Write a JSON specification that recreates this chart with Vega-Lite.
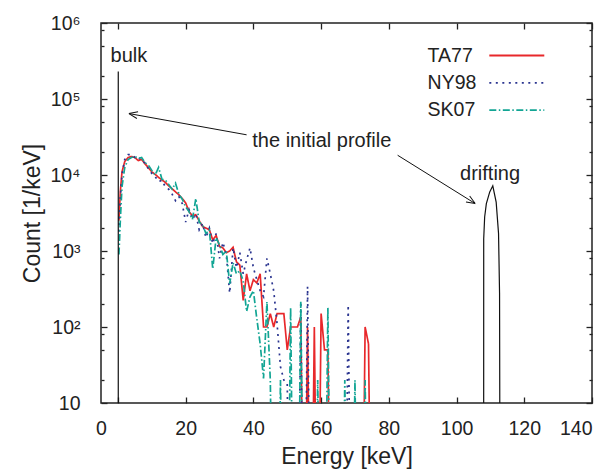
{
 "$schema": "https://vega.github.io/schema/vega-lite/v6.json",
 "autosize": "none",
 "width": 491,
 "height": 380,
 "padding": {"left": 101, "top": 23, "right": 18, "bottom": 67},
 "background": "white",
 "config": {
  "font": "Liberation Sans",
  "view": {"stroke": "#222", "strokeWidth": 1.5},
  "axis": {"domain": false, "grid": false, "ticks": true, "tickColor": "#222", "labelColor": "#222", "titleColor": "#222", "labelFont": "Liberation Sans", "titleFont": "Liberation Sans", "titleFontWeight": "normal", "labelFontSize": 19.5, "titleFontSize": 23, "tickWidth": 1.3}
 },
 "datasets": {
  "spectra": [
   {"series":"TA77","E":0.3,"v":2500},{"series":"TA77","E":0.7,"v":6000},{"series":"TA77","E":1.2,"v":11000},{"series":"TA77","E":2,"v":15000},{"series":"TA77","E":3,"v":17000},{"series":"TA77","E":4,"v":17500},{"series":"TA77","E":5,"v":17000},{"series":"TA77","E":6,"v":15500},{"series":"TA77","E":7,"v":16000},{"series":"TA77","E":8,"v":14000},{"series":"TA77","E":9,"v":12500},{"series":"TA77","E":10,"v":11000},{"series":"TA77","E":11,"v":10200},{"series":"TA77","E":12,"v":9300},{"series":"TA77","E":13,"v":8600},{"series":"TA77","E":14,"v":8000},{"series":"TA77","E":15,"v":7200},{"series":"TA77","E":16,"v":6600},{"series":"TA77","E":17,"v":6000},{"series":"TA77","E":18,"v":5500},{"series":"TA77","E":19,"v":4900},{"series":"TA77","E":20,"v":4300},{"series":"TA77","E":21,"v":3300},{"series":"TA77","E":22,"v":2900},{"series":"TA77","E":23,"v":3000},{"series":"TA77","E":24,"v":2500},{"series":"TA77","E":25,"v":2100},{"series":"TA77","E":26,"v":2000},{"series":"TA77","E":27,"v":1900},{"series":"TA77","E":28,"v":1400},{"series":"TA77","E":29,"v":1600},{"series":"TA77","E":30,"v":1150},{"series":"TA77","E":31,"v":1100},{"series":"TA77","E":32,"v":950},{"series":"TA77","E":33,"v":1000},{"series":"TA77","E":34,"v":1120},{"series":"TA77","E":35,"v":720},{"series":"TA77","E":36,"v":650},{"series":"TA77","E":37,"v":224},{"series":"TA77","E":38,"v":500},{"series":"TA77","E":39,"v":300},{"series":"TA77","E":40,"v":420},{"series":"TA77","E":41,"v":380},{"series":"TA77","E":42,"v":500},{"series":"TA77","E":43,"v":100},{"series":"TA77","E":44,"v":100},{"series":"TA77","E":45,"v":150},{"series":"TA77","E":46,"v":100},{"series":"TA77","E":47,"v":150},{"series":"TA77","E":48,"v":150},{"series":"TA77","E":49,"v":150},{"series":"TA77","E":50,"v":50},{"series":"TA77","E":51,"v":100},{"series":"TA77","E":52,"v":100},{"series":"TA77","E":53,"v":100},{"series":"TA77","E":54,"v":135},{"series":"TA77","E":55,"v":0.01},{"series":"TA77","E":56,"v":100},{"series":"TA77","E":57,"v":0.01},{"series":"TA77","E":58,"v":100},{"series":"TA77","E":59,"v":0.01},{"series":"TA77","E":60,"v":150},{"series":"TA77","E":61,"v":50},{"series":"TA77","E":62,"v":50},{"series":"TA77","E":63,"v":0.01},{"series":"TA77","E":72,"v":0.01},{"series":"TA77","E":73,"v":100},{"series":"TA77","E":74,"v":60},{"series":"TA77","E":75,"v":0.01},
   {"series":"NY98","E":0.3,"v":1800},{"series":"NY98","E":0.7,"v":5000},{"series":"NY98","E":1.2,"v":10000},{"series":"NY98","E":2,"v":16000},{"series":"NY98","E":3,"v":18500},{"series":"NY98","E":4,"v":18500},{"series":"NY98","E":5,"v":17000},{"series":"NY98","E":6,"v":17500},{"series":"NY98","E":7,"v":15000},{"series":"NY98","E":8,"v":14500},{"series":"NY98","E":9,"v":12000},{"series":"NY98","E":10,"v":10500},{"series":"NY98","E":11,"v":9500},{"series":"NY98","E":12,"v":8200},{"series":"NY98","E":13,"v":8500},{"series":"NY98","E":14,"v":7000},{"series":"NY98","E":15,"v":6500},{"series":"NY98","E":16,"v":5600},{"series":"NY98","E":17,"v":4600},{"series":"NY98","E":18,"v":5200},{"series":"NY98","E":19,"v":4200},{"series":"NY98","E":20,"v":2400},{"series":"NY98","E":21,"v":3500},{"series":"NY98","E":22,"v":2600},{"series":"NY98","E":23,"v":3100},{"series":"NY98","E":24,"v":1900},{"series":"NY98","E":25,"v":2300},{"series":"NY98","E":26,"v":1500},{"series":"NY98","E":27,"v":2000},{"series":"NY98","E":28,"v":1250},{"series":"NY98","E":29,"v":1700},{"series":"NY98","E":30,"v":800},{"series":"NY98","E":31,"v":1300},{"series":"NY98","E":32,"v":900},{"series":"NY98","E":33,"v":280},{"series":"NY98","E":34,"v":1100},{"series":"NY98","E":35,"v":600},{"series":"NY98","E":36,"v":950},{"series":"NY98","E":37,"v":500},{"series":"NY98","E":38,"v":760},{"series":"NY98","E":39,"v":1100},{"series":"NY98","E":40,"v":600},{"series":"NY98","E":41,"v":420},{"series":"NY98","E":42,"v":300},{"series":"NY98","E":43,"v":250},{"series":"NY98","E":44,"v":800},{"series":"NY98","E":45,"v":500},{"series":"NY98","E":46,"v":300},{"series":"NY98","E":47,"v":110},{"series":"NY98","E":48,"v":30},{"series":"NY98","E":49,"v":20},{"series":"NY98","E":50,"v":18},{"series":"NY98","E":51,"v":0.01},{"series":"NY98","E":53,"v":0.01},{"series":"NY98","E":54,"v":215},{"series":"NY98","E":55,"v":0.01},{"series":"NY98","E":56,"v":340},{"series":"NY98","E":57,"v":0.01},{"series":"NY98","E":67,"v":0.01},{"series":"NY98","E":68,"v":195},{"series":"NY98","E":69,"v":0.01},
   {"series":"SK07","E":0.3,"v":900},{"series":"SK07","E":0.7,"v":2500},{"series":"SK07","E":1.2,"v":7000},{"series":"SK07","E":2,"v":12500},{"series":"SK07","E":3,"v":16000},{"series":"SK07","E":4,"v":17000},{"series":"SK07","E":5,"v":17500},{"series":"SK07","E":6,"v":16500},{"series":"SK07","E":7,"v":17000},{"series":"SK07","E":8,"v":14500},{"series":"SK07","E":9,"v":13500},{"series":"SK07","E":10,"v":11500},{"series":"SK07","E":11,"v":10000},{"series":"SK07","E":12,"v":12600},{"series":"SK07","E":13,"v":8800},{"series":"SK07","E":14,"v":8600},{"series":"SK07","E":15,"v":7500},{"series":"SK07","E":16,"v":6500},{"series":"SK07","E":17,"v":7800},{"series":"SK07","E":18,"v":5600},{"series":"SK07","E":19,"v":4800},{"series":"SK07","E":20,"v":3800},{"series":"SK07","E":21,"v":3300},{"series":"SK07","E":22,"v":2600},{"series":"SK07","E":23,"v":4900},{"series":"SK07","E":24,"v":2400},{"series":"SK07","E":25,"v":2200},{"series":"SK07","E":26,"v":1700},{"series":"SK07","E":27,"v":1900},{"series":"SK07","E":28,"v":580},{"series":"SK07","E":29,"v":1500},{"series":"SK07","E":30,"v":1200},{"series":"SK07","E":31,"v":900},{"series":"SK07","E":32,"v":1000},{"series":"SK07","E":33,"v":370},{"series":"SK07","E":34,"v":700},{"series":"SK07","E":35,"v":500},{"series":"SK07","E":36,"v":550},{"series":"SK07","E":37,"v":400},{"series":"SK07","E":38,"v":160},{"series":"SK07","E":39,"v":250},{"series":"SK07","E":40,"v":300},{"series":"SK07","E":41,"v":130},{"series":"SK07","E":42,"v":60},{"series":"SK07","E":43,"v":21},{"series":"SK07","E":44,"v":215},{"series":"SK07","E":45,"v":20},{"series":"SK07","E":46,"v":0.01},{"series":"SK07","E":47,"v":0.01},{"series":"SK07","E":48,"v":20},{"series":"SK07","E":49,"v":0.01},{"series":"SK07","E":50,"v":0.01},{"series":"SK07","E":51,"v":180},{"series":"SK07","E":52,"v":0.01},{"series":"SK07","E":53,"v":0.01},{"series":"SK07","E":54,"v":215},{"series":"SK07","E":55,"v":0.01},{"series":"SK07","E":58,"v":0.01},{"series":"SK07","E":59,"v":20},{"series":"SK07","E":60,"v":0.01},{"series":"SK07","E":61,"v":0.01},{"series":"SK07","E":62,"v":180},{"series":"SK07","E":63,"v":0.01},{"series":"SK07","E":66,"v":0.01},{"series":"SK07","E":67,"v":20},{"series":"SK07","E":68,"v":0.01},{"series":"SK07","E":69,"v":0.01},{"series":"SK07","E":70,"v":20},{"series":"SK07","E":71,"v":0.01},{"series":"SK07","E":72,"v":0.01},{"series":"SK07","E":73,"v":20},{"series":"SK07","E":74,"v":0.01}
  ],
  "profile": [
   {"part":"bulk","i":0,"E":0.1,"v":0.01},{"part":"bulk","i":1,"E":0.1,"v":230000},
   {"part":"drift","i":0,"E":108.0,"v":0.01},{"part":"drift","i":1,"E":108.02,"v":1450},{"part":"drift","i":2,"E":108.3,"v":2800},{"part":"drift","i":3,"E":108.8,"v":4200},{"part":"drift","i":4,"E":109.8,"v":6000},{"part":"drift","i":5,"E":110.7,"v":7200},{"part":"drift","i":6,"E":111.7,"v":4400},{"part":"drift","i":7,"E":112.4,"v":1700},{"part":"drift","i":8,"E":112.7,"v":280},{"part":"drift","i":9,"E":112.9,"v":0.01}
  ],
  "arrows": [
   {"id":"a1","E1":38.0,"v1":33800,"E2":3.25,"v2":64300},
   {"id":"a2","E1":82.6,"v1":18200,"E2":105.5,"v2":4210}
  ],
  "notes": [
   {"text":"bulk","E":3.25,"v":307000},
   {"text":"the initial profile","E":60.2,"v":23300},
   {"text":"drifting","E":109.9,"v":8500}
  ]
 },
 "layer": [
  {
   "data": {"name": "spectra"},
   "mark": {"type": "line", "clip": true, "strokeWidth": 1.7},
   "encoding": {
    "x": {"field": "E", "type": "quantitative", "scale": {"type": "linear", "domain": [-5, 140], "nice": false, "zero": false},
     "axis": {"orient": "bottom", "values": [0, 20, 40, 60, 80, 100, 120, 140], "offset": -6, "tickSize": 6, "labelPadding": 16, "labelOffset": {"condition": {"test": "datum.value == 0", "value": -17}, "value": 0}, "title": "Energy [keV]", "titlePadding": 8}},
    "y": {"field": "v", "type": "quantitative", "scale": {"type": "log", "domain": [10, 1000000], "nice": false},
     "axis": {"orient": "left", "values": [10, 100, 1000, 10000, 100000, 1000000], "labelExpr": "datum.value == 10 ? '10' : datum.value == 100 ? '10²' : datum.value == 1000 ? '10³' : datum.value == 10000 ? '10⁴' : datum.value == 100000 ? '10⁵' : '10⁶'", "offset": -6, "tickSize": 6, "labelPadding": 21, "title": "Count [1/keV]", "titlePadding": 5}},
    "color": {"field": "series", "type": "nominal", "sort": ["TA77", "NY98", "SK07"], "scale": {"domain": ["TA77", "NY98", "SK07"], "range": ["#e8282b", "#2b3590", "#12a594"]},
     "legend": {"orient": "none", "legendX": 405.3, "legendY": 22, "title": null, "symbolType": "M-3,0H3", "symbolSize": 336, "symbolStrokeWidth": 1.8, "labelFontSize": 19.5, "labelFont": "Liberation Sans", "labelColor": "#222", "labelOffset": -99.7, "rowPadding": 7.3, "padding": 0}},
    "strokeDash": {"field": "series", "type": "nominal", "sort": ["TA77", "NY98", "SK07"], "scale": {"domain": ["TA77", "NY98", "SK07"], "range": [[1, 0], [2, 4.5], [7, 2.5, 1.5, 2.5]]},
     "legend": {"orient": "none", "legendX": 405.3, "legendY": 22, "title": null, "symbolType": "M-3,0H3", "symbolSize": 336, "symbolStrokeWidth": 1.8, "labelFontSize": 19.5, "labelFont": "Liberation Sans", "labelColor": "#222", "labelOffset": -99.7, "rowPadding": 7.3, "padding": 0}}
   }
  },
  {
   "data": {"name": "profile"},
   "mark": {"type": "line", "clip": true, "color": "#111", "strokeWidth": 1.2},
   "encoding": {
    "x": {"field": "E", "type": "quantitative", "scale": {"type": "linear", "domain": [-5, 140], "nice": false, "zero": false}, "axis": null},
    "y": {"field": "v", "type": "quantitative", "scale": {"type": "log", "domain": [10, 1000000], "nice": false}, "axis": null},
    "detail": {"field": "part"},
    "order": {"field": "i", "type": "quantitative"}
   }
  },
  {
   "data": {"name": "arrows"},
   "mark": {"type": "rule", "color": "#111", "strokeWidth": 1},
   "encoding": {
    "x": {"field": "E1", "type": "quantitative", "scale": {"type": "linear", "domain": [-5, 140], "nice": false, "zero": false}, "axis": null},
    "y": {"field": "v1", "type": "quantitative", "scale": {"type": "log", "domain": [10, 1000000], "nice": false}, "axis": null},
    "x2": {"field": "E2"},
    "y2": {"field": "v2"}
   }
  },
  {
   "data": {"name": "arrows"},
   "transform": [{"filter": "datum.id == 'a1'"}],
   "mark": {"type": "point", "shape": "M0,0L-0.4,1M0,0L0.4,1", "size": 300, "filled": false, "stroke": "#111", "strokeWidth": 1, "opacity": 1, "angle": 280},
   "encoding": {
    "x": {"field": "E2", "type": "quantitative", "scale": {"type": "linear", "domain": [-5, 140], "nice": false, "zero": false}, "axis": null},
    "y": {"field": "v2", "type": "quantitative", "scale": {"type": "log", "domain": [10, 1000000], "nice": false}, "axis": null}
   }
  },
  {
   "data": {"name": "arrows"},
   "transform": [{"filter": "datum.id == 'a2'"}],
   "mark": {"type": "point", "shape": "M0,0L-0.4,1M0,0L0.4,1", "size": 300, "filled": false, "stroke": "#111", "strokeWidth": 1, "opacity": 1, "angle": 122},
   "encoding": {
    "x": {"field": "E2", "type": "quantitative", "scale": {"type": "linear", "domain": [-5, 140], "nice": false, "zero": false}, "axis": null},
    "y": {"field": "v2", "type": "quantitative", "scale": {"type": "log", "domain": [10, 1000000], "nice": false}, "axis": null}
   }
  },
  {
   "data": {"name": "notes"},
   "mark": {"type": "text", "fontSize": 20, "font": "Liberation Sans", "color": "#222", "align": "center", "baseline": "alphabetic"},
   "encoding": {
    "x": {"field": "E", "type": "quantitative", "scale": {"type": "linear", "domain": [-5, 140], "nice": false, "zero": false}, "axis": null},
    "y": {"field": "v", "type": "quantitative", "scale": {"type": "log", "domain": [10, 1000000], "nice": false}, "axis": null},
    "text": {"field": "text"}
   }
  },
  {
   "data": {"name": "profile"},
   "mark": {"type": "point", "opacity": 0, "clip": true},
   "encoding": {
    "x": {"field": "E", "type": "quantitative", "scale": {"type": "linear", "domain": [-5, 140], "nice": false, "zero": false}, "axis": {"orient": "top", "values": [0, 20, 40, 60, 80, 100, 120, 140], "labels": false, "offset": -6, "tickSize": 6, "title": null}},
    "y": {"field": "v", "type": "quantitative", "scale": {"type": "log", "domain": [10, 1000000], "nice": false}, "axis": {"orient": "right", "values": [10, 100, 1000, 10000, 100000, 1000000], "labels": false, "offset": -6, "tickSize": 6, "title": null}}
   }
  },
  {
   "data": {"name": "profile"},
   "mark": {"type": "point", "opacity": 0, "clip": true},
   "encoding": {
    "x": {"field": "E", "type": "quantitative", "scale": {"type": "linear", "domain": [-5, 140], "nice": false, "zero": false}, "axis": null},
    "y": {"field": "v", "type": "quantitative", "scale": {"type": "log", "domain": [10, 1000000], "nice": false}, "axis": {"orient": "left", "values": [20, 50, 80, 200, 500, 800, 2000, 5000, 8000, 20000, 50000, 80000, 200000, 500000, 800000], "labels": false, "offset": -3, "tickSize": 3, "title": null}}
   }
  },
  {
   "data": {"name": "profile"},
   "mark": {"type": "point", "opacity": 0, "clip": true},
   "encoding": {
    "x": {"field": "E", "type": "quantitative", "scale": {"type": "linear", "domain": [-5, 140], "nice": false, "zero": false}, "axis": null},
    "y": {"field": "v", "type": "quantitative", "scale": {"type": "log", "domain": [10, 1000000], "nice": false}, "axis": {"orient": "right", "values": [20, 50, 80, 200, 500, 800, 2000, 5000, 8000, 20000, 50000, 80000, 200000, 500000, 800000], "labels": false, "offset": -3, "tickSize": 3, "title": null}}
   }
  }
 ],
 "resolve": {"axis": {"x": "independent", "y": "independent"}}
}
